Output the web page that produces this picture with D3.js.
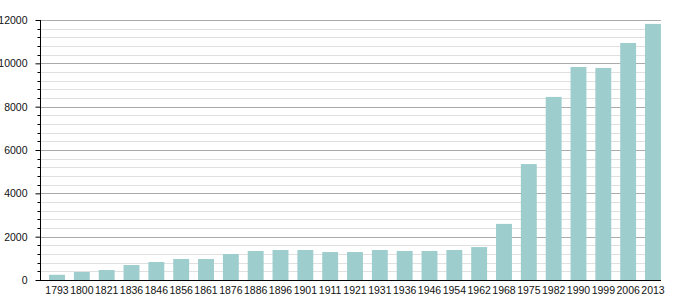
<!DOCTYPE html>
<html><head><meta charset="utf-8">
<script src="https://cdn.jsdelivr.net/npm/d3@7"></script>
<style>
body{margin:0;background:#fff;}
text{font-family:"Liberation Sans",Arial,sans-serif;font-size:10.5px;fill:#111;}
</style></head>
<body><svg id="c" width="680" height="300"></svg>
<script>
const years = ["1793","1800","1821","1836","1846","1856","1861","1876","1886","1896","1901","1911","1921","1931","1936","1946","1954","1962","1968","1975","1982","1990","1999","2006","2013"];
const population = [240,370,460,690,830,970,970,1200,1340,1385,1385,1290,1290,1385,1340,1340,1385,1520,2590,5350,8450,9830,9790,10940,11820];
const majorTicks = [0,2000,4000,6000,8000,10000,12000];
const minorStep = 400;

const svg = d3.select("#c");
const mLeft = 40, mRight = 661, mTop = 20, mBottom = 280;
const y = d3.scaleLinear().domain([0,12000]).range([mBottom, mTop]);
const x = d3.scaleBand().domain(years).range([44.6, 665.4]).paddingInner(0.36).paddingOuter(0.18);

const minor = d3.range(0, 12001, minorStep).filter(v => v % 2000 !== 0);
// minor grid
svg.append("g").selectAll("line").data(minor).join("line")
  .attr("x1", mLeft).attr("x2", mRight)
  .attr("y1", d => Math.round(y(d))+0.5).attr("y2", d => Math.round(y(d))+0.5)
  .attr("stroke", "#e0e0e0").attr("stroke-width", 1);
// major grid
svg.append("g").selectAll("line").data(majorTicks.filter(d=>d>0)).join("line")
  .attr("x1", mLeft).attr("x2", mRight)
  .attr("y1", d => Math.round(y(d))+0.5).attr("y2", d => Math.round(y(d))+0.5)
  .attr("stroke", "#aaaaaa").attr("stroke-width", 1);

// bars
svg.append("g").selectAll("rect").data(population).join("rect")
  .attr("x", (d,i) => x(years[i]))
  .attr("width", x.bandwidth())
  .attr("y", d => y(d))
  .attr("height", d => mBottom - y(d))
  .attr("fill", "#9dcdcd");

// y axis
const yAxis = d3.axisLeft(y).tickValues(majorTicks).tickSize(5).tickPadding(8).tickFormat(d3.format("d"));
const ga = svg.append("g").attr("transform", `translate(${mLeft+0.5},0)`).call(yAxis);
ga.select(".domain").remove();
ga.selectAll(".tick line").attr("stroke", "#000");
ga.selectAll("text").style("font-size","10.5px");
svg.append("g").selectAll("line").data(minor).join("line")
  .attr("x1", mLeft-2.5).attr("x2", mLeft+0.5)
  .attr("y1", d => Math.round(y(d))+0.5).attr("y2", d => Math.round(y(d))+0.5)
  .attr("stroke", "#000");
svg.append("line").attr("x1", mLeft+0.5).attr("x2", mLeft+0.5).attr("y1", mTop).attr("y2", mBottom+0.5).attr("stroke","#000");

// x axis
const xAxis = d3.axisBottom(x).tickSize(0).tickPadding(6);
const gx = svg.append("g").attr("transform", `translate(0,${mBottom+0.5})`).call(xAxis);
gx.select(".domain").remove();
gx.selectAll("text").style("font-size","10.5px");
svg.append("line").attr("x1", mLeft).attr("x2", mRight).attr("y1", mBottom+0.5).attr("y2", mBottom+0.5).attr("stroke","#000");
</script></body></html>
